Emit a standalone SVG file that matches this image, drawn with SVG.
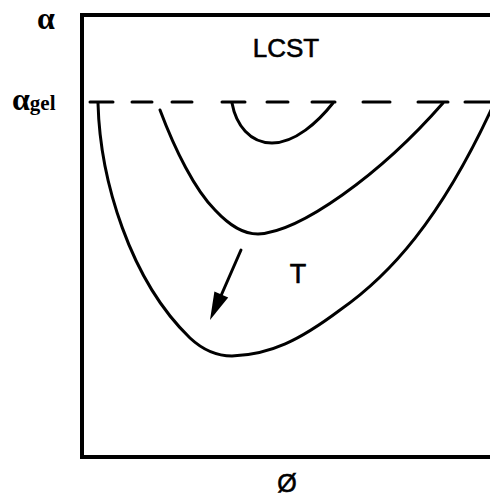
<svg xmlns="http://www.w3.org/2000/svg" width="490" height="496" viewBox="0 0 490 496">
<style>
.ax{fill:none;stroke:#000;stroke-width:4;stroke-linecap:square}
.cv{fill:none;stroke:#000;stroke-width:3;stroke-linecap:round;stroke-linejoin:round}
.ds{stroke:#000;stroke-width:3;stroke-linecap:round}
.greek{font-family:"Liberation Serif","Times New Roman",serif;font-weight:bold;fill:#000}
.lbl{font-family:"Liberation Sans",Arial,sans-serif;fill:#000;stroke:#000;stroke-width:0.6}
</style>
<rect width="490" height="496" fill="#fff"/>
<g id="axes">
<path class="ax" d="M490,15 H82 V457 H490"/>
</g>
<g id="gel-line">
<line class="ds" x1="90" y1="102" x2="113" y2="102"/>
<line class="ds" x1="132" y1="102" x2="152" y2="102"/>
<line class="ds" x1="172" y1="102" x2="192" y2="102"/>
<line class="ds" x1="222" y1="102" x2="245" y2="102"/>
<line class="ds" x1="267" y1="102" x2="288" y2="102"/>
<line class="ds" x1="312" y1="102" x2="335" y2="102"/>
<line class="ds" x1="363" y1="102" x2="390" y2="102"/>
<line class="ds" x1="418" y1="102" x2="448" y2="102"/>
<line class="ds" x1="465" y1="102" x2="490" y2="102"/>
</g>
<g id="curves">
<path class="cv" d="M232,103 C236,125 250,143 272,143 C295,143 318,122 333,103"/>
<path class="cv" d="M160,110 C175,150 195,190 215,210 C230,226 243,234 258,234 C300,232 380,175 443,103"/>
<path class="cv" d="M98,103 C100,180 130,280 190,338 C205,352 218,356 232,356 C270,355 300,340 340,310 C390,275 440,220 492,108"/>
</g>
<g id="arrow">
<line x1="241" y1="250" x2="220" y2="298" stroke="#000" stroke-width="3" stroke-linecap="round"/>
<polygon points="210,320 214.4,291.4 228.2,297.4" fill="#000"/>
</g>
<g id="labels">
<text class="greek" x="37" y="29" font-size="32">α</text>
<text class="greek" x="12" y="110" font-size="32">α<tspan font-size="21">gel</tspan></text>
<text class="lbl" x="286" y="57" font-size="26" text-anchor="middle">LCST</text>
<text class="lbl" x="298" y="283" font-size="27" text-anchor="middle">T</text>
<text class="lbl" x="287" y="492" font-size="25" text-anchor="middle" stroke-width="0.3">Ø</text>
</g>
</svg>
